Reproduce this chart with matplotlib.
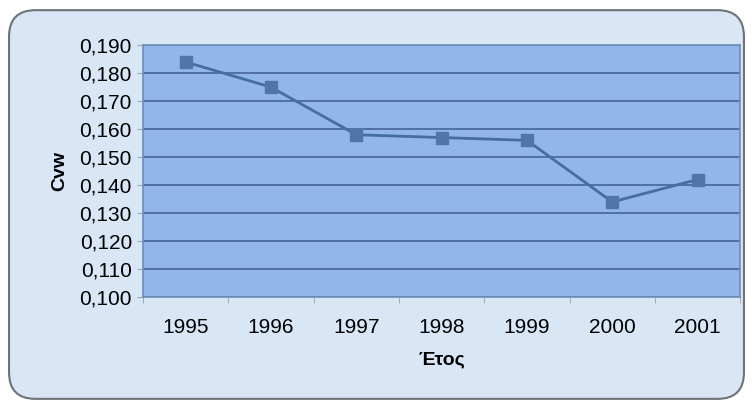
import numpy as np
import matplotlib.pyplot as plt
from matplotlib.patches import FancyBboxPatch

years = ['1995', '1996', '1997', '1998', '1999', '2000', '2001']
cvw = [0.184, 0.175, 0.158, 0.157, 0.156, 0.134, 0.142]
yticks = [0.100, 0.110, 0.120, 0.130, 0.140, 0.150, 0.160, 0.170, 0.180, 0.190]

plt.rcParams['font.family'] = ['Liberation Sans', 'DejaVu Sans']

fig = plt.figure(figsize=(7.53, 4.07), dpi=100)
fig.patch.set_facecolor('white')

# rounded frame behind everything
frame = FancyBboxPatch((0.012, 0.02), 0.976, 0.955,
                       boxstyle='round,pad=0,rounding_size=0.035',
                       transform=fig.transFigure, facecolor='#d9e6f6',
                       edgecolor='#6f7378', linewidth=1.5, zorder=-10,
                       mutation_aspect=753 / 407)
fig.add_artist(frame)

ax = fig.add_axes([0.190, 0.270, 0.793, 0.619])
ax.set_zorder(1)
ax.set_facecolor('#92b6ea')
x = np.arange(len(years))
ax.plot(x, cvw, color='#466d9f', linewidth=2, marker='s', markersize=9,
        markerfacecolor='#4f75a9', markeredgecolor='#4f75a9', zorder=3)

ax.set_xlim(-0.5, len(years) - 0.5)
ax.set_ylim(0.100, 0.190)
ax.set_yticks(yticks)
ax.set_yticklabels([f'{v:.3f}'.replace('.', ',') for v in yticks], fontsize=15)
ax.set_xticks(x)
ax.set_xticklabels(years, fontsize=15)
ax.set_xticks(np.arange(-0.5, len(years), 1), minor=True)
ax.tick_params(axis='x', which='major', length=0, pad=15)
ax.tick_params(axis='x', which='minor', length=4, color='#9aa4b0')
ax.tick_params(axis='y', length=4, color='#9aa4b0', pad=4)
ax.grid(axis='y', color='#3f5f8c', linewidth=1.1)
ax.set_axisbelow(True)
for s in ax.spines.values():
    s.set_color('#6d8fb8')
    s.set_linewidth(1.2)

ax.set_xlabel('Έτος', fontsize=14, fontweight='bold', labelpad=10)
ax.set_ylabel('Cvw', fontsize=14, fontweight='bold', labelpad=8)

fig.savefig('out.png', dpi=100, facecolor=fig.get_facecolor())
